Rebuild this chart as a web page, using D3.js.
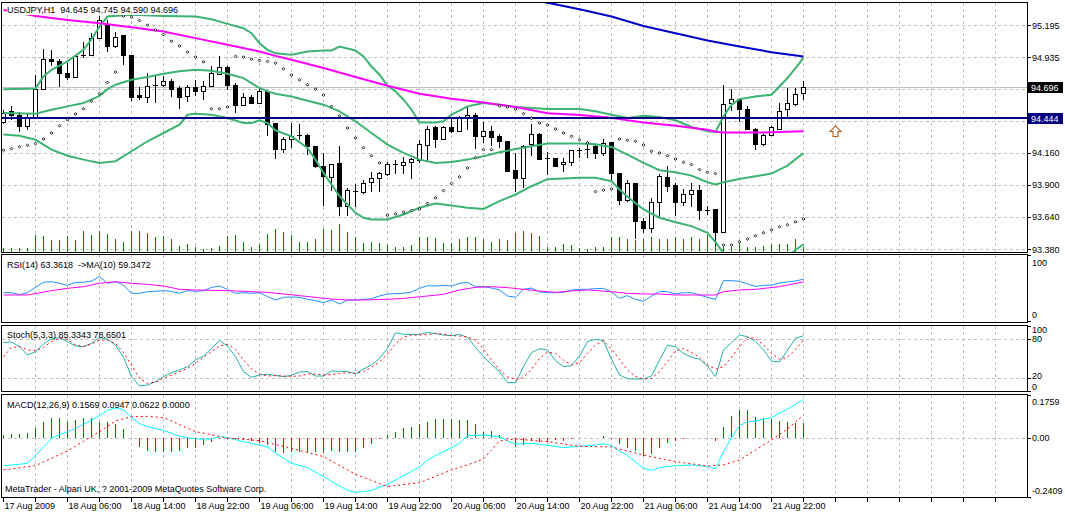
<!DOCTYPE html>
<html lang="en">
<head>
<meta charset="UTF-8">
<title>USDJPY,H1</title>
<script src="https://cdn.jsdelivr.net/npm/d3@7"></script>
<style>
    body { margin: 0; background: #fff; }
    svg { display: block; font-family: "Liberation Sans", Arial, sans-serif; font-size: 9px; }
    text { white-space: pre; }
</style>
</head>
<body>
<script type="text/javascript">

    // time axis
    var timeTicks = [0, 8, 16, 24, 32, 40, 48, 56, 64, 72, 80, 88, 96];
    var timeLabels = ["17 Aug 2009", "18 Aug 06:00", "18 Aug 14:00", "18 Aug 22:00", "19 Aug 06:00",
        "19 Aug 14:00", "19 Aug 22:00", "20 Aug 06:00", "20 Aug 14:00", "20 Aug 22:00",
        "21 Aug 06:00", "21 Aug 14:00", "21 Aug 22:00"];
    var priceTicks = [95.195, 94.935, 94.675, 94.420, 94.160, 93.900, 93.640, 93.380];

    // candles, one per hour
    var open = [94.410, 94.497, 94.470, 94.373, 94.448, 94.680, 94.918, 94.907, 94.810, 94.778,
        94.945, 94.950, 95.091, 95.199, 95.026, 95.112, 94.950, 94.626, 94.616, 94.705,
        94.713, 94.740, 94.686, 94.621, 94.697, 94.664, 94.702, 94.799, 94.859, 94.707,
        94.551, 94.616, 94.562, 94.659, 94.400, 94.189, 94.270, 94.300, 94.302, 94.211,
        94.054, 93.962, 94.076, 93.730, 93.852, 93.843, 93.919, 93.951, 93.984, 94.068,
        94.059, 94.081, 94.103, 94.221, 94.367, 94.275, 94.367, 94.335, 94.443, 94.470,
        94.292, 94.340, 94.292, 94.254, 94.016, 93.957, 94.227, 94.308, 94.119, 94.113,
        94.065, 94.081, 94.184, 94.192, 94.216, 94.157, 94.243, 93.995, 93.779, 93.914,
        93.606, 93.552, 93.757, 93.962, 93.897, 93.757, 93.822, 93.860, 93.703, 93.703,
        93.519, 94.567, 94.599, 94.518, 94.356, 94.227, 94.302, 94.356, 94.513, 94.556,
        94.645];
    var high = [94.513, 94.545, 94.497, 94.486, 94.794, 95.004, 94.999, 94.923, 94.891, 94.950,
        95.064, 95.134, 95.274, 95.242, 95.145, 95.118, 94.956, 94.697, 94.815, 94.788,
        94.788, 94.761, 94.707, 94.713, 94.756, 94.745, 94.864, 94.950, 94.864, 94.729,
        94.648, 94.632, 94.686, 94.670, 94.405, 94.292, 94.405, 94.400, 94.313, 94.216,
        94.162, 94.070, 94.221, 93.881, 93.914, 93.946, 94.005, 94.011, 94.092, 94.108,
        94.130, 94.124, 94.270, 94.383, 94.383, 94.378, 94.448, 94.464, 94.540, 94.486,
        94.416, 94.378, 94.313, 94.259, 94.162, 94.227, 94.394, 94.324, 94.173, 94.119,
        94.119, 94.189, 94.200, 94.259, 94.238, 94.275, 94.248, 94.000, 93.946, 93.919,
        93.633, 93.795, 93.989, 94.059, 93.919, 93.870, 93.919, 93.903, 93.730, 93.708,
        94.713, 94.680, 94.610, 94.540, 94.367, 94.319, 94.378, 94.567, 94.686, 94.691,
        94.745];
    var low = [94.400, 94.432, 94.329, 94.351, 94.443, 94.675, 94.864, 94.697, 94.751, 94.772,
        94.929, 94.945, 95.085, 94.983, 95.015, 94.875, 94.583, 94.594, 94.567, 94.567,
        94.697, 94.616, 94.518, 94.578, 94.626, 94.589, 94.697, 94.794, 94.675, 94.486,
        94.545, 94.556, 94.556, 94.302, 94.113, 94.162, 94.200, 94.270, 94.146, 94.043,
        93.735, 93.854, 93.654, 93.654, 93.725, 93.827, 93.843, 93.843, 93.978, 93.989,
        93.989, 93.951, 94.081, 94.086, 94.205, 94.270, 94.324, 94.329, 94.351, 94.194,
        94.243, 94.216, 94.200, 94.005, 93.843, 93.881, 94.135, 94.103, 93.984, 94.049,
        94.011, 94.054, 94.119, 94.119, 94.113, 94.135, 93.930, 93.741, 93.762, 93.460,
        93.514, 93.514, 93.638, 93.849, 93.649, 93.730, 93.725, 93.617, 93.660, 93.406,
        93.514, 94.502, 94.410, 94.346, 94.189, 94.221, 94.297, 94.351, 94.448, 94.545,
        94.590];
    var close = [94.486, 94.470, 94.373, 94.448, 94.680, 94.918, 94.902, 94.805, 94.778, 94.945,
        94.950, 95.091, 95.237, 95.026, 95.102, 94.950, 94.616, 94.610, 94.702, 94.710,
        94.745, 94.680, 94.616, 94.697, 94.664, 94.702, 94.810, 94.859, 94.707, 94.551,
        94.616, 94.562, 94.659, 94.394, 94.189, 94.270, 94.297, 94.302, 94.211, 94.049,
        93.968, 94.065, 93.730, 93.860, 93.846, 93.914, 93.951, 93.995, 94.065, 94.070,
        94.081, 94.108, 94.227, 94.356, 94.275, 94.367, 94.340, 94.448, 94.470, 94.292,
        94.340, 94.286, 94.254, 94.011, 93.957, 94.211, 94.308, 94.108, 94.113, 94.054,
        94.081, 94.178, 94.186, 94.194, 94.157, 94.238, 93.995, 93.779, 93.914, 93.606,
        93.552, 93.757, 93.968, 93.892, 93.757, 93.822, 93.860, 93.692, 93.692, 93.519,
        94.556, 94.599, 94.518, 94.351, 94.227, 94.302, 94.367, 94.502, 94.567, 94.637,
        94.696];
    var volume = [110, 110, 110, 110, 500, 480, 360, 360, 480, 360,
        620, 500, 620, 540, 380, 300, 620, 620, 560, 440,
        480, 380, 180, 240, 140, 100, 120, 180, 480, 500,
        300, 140, 240, 540, 680, 600, 500, 300, 300, 380,
        680, 660, 840, 600, 440, 280, 300, 280, 200, 160,
        140, 220, 460, 460, 420, 280, 280, 400, 460, 460,
        380, 300, 380, 360, 560, 640, 560, 480, 140, 140,
        240, 200, 120, 100, 140, 140, 440, 460, 400, 360,
        380, 440, 380, 380, 440, 380, 460, 380, 520, 280,
        210, 160, 340, 160, 140, 180, 240, 240, 240, 400,
        160];
    // parabolic SAR
    var sar = [94.184, 94.197, 94.213, 94.224, 94.238, 94.275, 94.324, 94.383, 94.432, 94.478,
        94.521, 94.581, 94.643, 94.734, 94.818, 95.274, 95.264, 95.237, 95.199, 95.161,
        95.123, 95.069, 95.031, 94.980, 94.940, 94.902, 94.521, 94.521, 94.535, 94.945,
        94.940, 94.923, 94.913, 94.905, 94.891, 94.845, 94.794, 94.756, 94.716, 94.680,
        94.632, 94.540, 94.464, 94.365, 94.284, 94.205, 94.140, 94.081, 93.657, 93.668,
        93.681, 93.695, 93.708, 93.752, 93.798, 93.857, 93.914, 93.968, 94.041, 94.124,
        94.189, 94.189, 94.545, 94.535, 94.518, 94.481, 94.443, 94.405, 94.389, 94.356,
        94.324, 94.297, 94.270, 94.243, 93.849, 93.860, 93.870, 94.275, 94.265, 94.257,
        94.227, 94.176, 94.162, 94.140, 94.113, 94.086, 94.068, 94.027, 94.005, 93.995,
        93.414, 93.414, 93.441, 93.465, 93.490, 93.514, 93.538, 93.563, 93.579, 93.603,
        93.627];

    // bollinger bands [bar, price]
    var bbUpper = [[0, 94.680], [4, 94.686], [5, 94.783], [6, 94.837], [8, 94.905], [10, 94.999], [11, 95.085],
        [12, 95.188], [13, 95.269], [16, 95.283], [20, 95.274], [24, 95.269], [26, 95.247], [28, 95.210],
        [30, 95.175], [31, 95.134], [32, 95.053], [33, 94.999], [34, 94.972], [36, 94.959], [38, 94.986],
        [40, 94.994], [41, 94.994], [42, 95.026], [44, 94.994], [45, 94.945], [46, 94.864], [47, 94.797],
        [48, 94.707], [49, 94.662], [50, 94.594], [51, 94.513], [52, 94.410], [54, 94.410], [55, 94.419],
        [56, 94.473], [57, 94.505], [58, 94.540], [60, 94.567], [62, 94.554], [64, 94.535], [68, 94.518],
        [72, 94.518], [74, 94.500], [76, 94.473], [78, 94.446], [80, 94.464], [82, 94.454], [84, 94.427],
        [86, 94.373], [88, 94.338], [89, 94.332], [90, 94.459], [91, 94.554], [92, 94.599], [94, 94.621],
        [96, 94.635], [98, 94.770], [100, 94.932]];
    var bbMiddle = [[0, 94.486], [4, 94.481], [6, 94.513], [8, 94.540], [10, 94.567], [12, 94.626], [13, 94.680],
        [14, 94.716], [16, 94.756], [18, 94.778], [20, 94.805], [22, 94.826], [24, 94.837], [26, 94.829],
        [28, 94.805], [30, 94.770], [31, 94.729], [32, 94.689], [33, 94.662], [34, 94.643], [36, 94.621],
        [38, 94.586], [40, 94.554], [42, 94.500], [44, 94.419], [46, 94.324], [48, 94.230], [50, 94.162],
        [52, 94.108], [54, 94.081], [56, 94.089], [58, 94.108], [60, 94.135], [62, 94.167], [64, 94.194],
        [66, 94.216], [68, 94.238], [72, 94.238], [74, 94.232], [76, 94.211], [78, 94.149], [80, 94.081],
        [82, 94.022], [84, 94.005], [86, 93.978], [88, 93.924], [89, 93.906], [90, 93.924], [92, 93.951],
        [94, 93.973], [96, 93.995], [98, 94.059], [100, 94.162]];
    var bbLower = [[0, 94.311], [2, 94.302], [4, 94.270], [5, 94.230], [6, 94.189], [8, 94.140], [10, 94.108],
        [12, 94.081], [14, 94.095], [16, 94.176], [18, 94.257], [20, 94.324], [22, 94.392], [23, 94.473],
        [24, 94.481], [26, 94.473], [28, 94.446], [30, 94.405], [31, 94.405], [32, 94.427], [33, 94.405],
        [34, 94.346], [36, 94.297], [38, 94.203], [39, 94.108], [40, 94.000], [41, 93.906], [42, 93.811],
        [43, 93.744], [44, 93.676], [45, 93.636], [46, 93.622], [48, 93.622], [50, 93.663], [52, 93.717],
        [54, 93.752], [56, 93.735], [58, 93.717], [60, 93.708], [62, 93.771], [64, 93.825], [66, 93.892],
        [68, 93.949], [72, 93.960], [74, 93.960], [76, 93.933], [77, 93.865], [78, 93.806], [80, 93.703],
        [82, 93.636], [84, 93.600], [86, 93.568], [88, 93.514], [89, 93.438], [90, 93.347], [92, 93.244],
        [94, 93.217], [96, 93.244], [98, 93.312], [99, 93.374], [100, 93.420]];
    // moving averages [bar, price]
    var maMagenta = [[0, 95.323], [4, 95.274], [8, 95.242], [12, 95.215], [16, 95.183], [20, 95.148], [24, 95.094],
        [28, 95.040], [32, 94.986], [34, 94.950], [36, 94.918], [40, 94.851], [44, 94.778], [48, 94.707],
        [52, 94.643], [56, 94.602], [60, 94.572], [64, 94.535], [68, 94.484], [72, 94.470], [76, 94.448],
        [78, 94.427], [80, 94.410], [84, 94.383], [88, 94.351], [89, 94.335], [90, 94.329], [95, 94.329],
        [100, 94.338]];
    var maBlue = [[64, 95.431], [68, 95.382], [72, 95.328], [76, 95.269], [80, 95.193], [84, 95.134],
        [88, 95.075], [92, 95.026], [96, 94.980], [100, 94.945]];
    var hLevel = 94.444;
    var arrowMark = [104, 94.381];

    // RSI(14) and its MA(10)
    var rsi = [42.9, 42.9, 39.9, 42.9, 51.0, 58.6, 59.6, 57.1, 54.0, 58.6,
        58.6, 60.6, 67.2, 57.1, 59.6, 54.5, 41.9, 41.9, 44.4, 44.9,
        46.0, 44.9, 41.9, 46.0, 44.9, 46.0, 51.0, 53.0, 48.0, 41.9,
        42.9, 41.9, 42.9, 36.9, 31.8, 35.9, 36.4, 35.9, 32.8, 30.8,
        27.8, 31.8, 25.8, 31.8, 31.8, 32.8, 33.8, 37.9, 40.9, 41.4,
        41.9, 43.9, 49.5, 53.5, 53.0, 54.0, 53.0, 57.1, 58.6, 52.0,
        52.0, 50.0, 47.0, 37.9, 35.9, 48.0, 50.0, 43.9, 42.9, 42.9,
        43.4, 47.0, 48.0, 48.0, 49.0, 49.5, 43.9, 34.3, 38.4, 32.8,
        29.8, 37.9, 44.9, 44.4, 40.9, 42.9, 42.9, 39.4, 35.9, 32.8,
        61.1, 61.1, 60.1, 56.1, 52.5, 54.0, 54.5, 57.6, 59.1, 60.6,
        63.3618];
    var rsiMa = [[0, 39.4], [3, 39.4], [6, 46.0], [8, 49.5], [10, 52.0], [12, 57.1], [14, 59.6], [16, 57.1],
        [18, 55.6], [20, 53.0], [22, 48.0], [24, 47.0], [28, 46.0], [33, 43.4], [37, 38.4], [41, 33.3],
        [43, 31.8], [45, 31.8], [48, 32.8], [50, 34.3], [53, 37.9], [55, 40.4], [57, 47.0], [59, 51.0],
        [61, 52.0], [63, 50.5], [65, 48.0], [67, 45.5], [69, 43.4], [71, 45.5], [73, 47.0], [76, 44.4],
        [78, 41.9], [80, 40.9], [82, 40.9], [84, 39.4], [89, 39.4], [90, 44.4], [92, 47.0], [94, 48.0],
        [97, 52.0], [100, 59.3472]];

    // Stochastic(5,3,3)
    var stochK = [74.8, 75.8, 68.7, 55.8, 61.0, 72.8, 81.5, 82.5, 76.4, 69.7,
        68.7, 73.8, 83.0, 80.0, 71.2, 52.3, 22.5, 8.2, 9.7, 14.8,
        22.5, 28.7, 32.8, 37.9, 48.2, 54.3, 66.1, 77.9, 69.7, 53.3,
        30.2, 21.5, 25.1, 26.1, 24.6, 22.5, 24.6, 29.7, 30.7, 23.5,
        23.5, 31.2, 30.7, 30.7, 26.6, 34.3, 40.5, 50.7, 66.1, 90.2,
        87.6, 87.6, 87.1, 90.7, 88.7, 86.6, 85.6, 87.6, 83.0, 67.6,
        53.3, 41.5, 30.2, 13.3, 13.3, 37.9, 59.4, 65.6, 63.5, 47.1,
        37.9, 39.4, 54.3, 76.4, 80.0, 77.9, 49.2, 25.1, 19.4, 19.0,
        19.0, 23.5, 48.2, 70.7, 68.7, 58.4, 52.3, 49.2, 38.9, 22.5,
        63.5, 74.8, 86.6, 84.1, 76.4, 63.5, 46.6, 45.1, 63.5, 81.5,
        85.3343];
    var stochD = [53.3, 67.6, 68.7, 63.5, 62.5, 67.6, 76.4, 81.5, 79.9, 71.2,
        68.7, 72.8, 78.9, 78.9, 73.8, 59.4, 40.5, 20.0, 12.3, 14.3,
        20.0, 25.1, 30.2, 35.3, 43.0, 52.3, 61.0, 69.7, 72.3, 64.6,
        48.2, 34.8, 26.6, 23.5, 24.1, 23.5, 23.0, 23.5, 26.6, 26.6,
        25.1, 25.6, 27.6, 28.7, 27.6, 30.2, 36.9, 45.6, 57.4, 72.8,
        83.0, 86.6, 86.6, 87.1, 89.2, 87.6, 85.6, 85.1, 83.5, 78.9,
        65.1, 48.2, 32.8, 22.5, 18.4, 21.0, 33.8, 50.7, 60.0, 58.4,
        48.2, 40.5, 44.0, 58.4, 71.2, 77.9, 64.6, 49.2, 32.8, 22.5,
        19.0, 20.0, 30.2, 45.6, 62.5, 65.6, 60.0, 52.3, 40.5, 33.8,
        37.9, 52.3, 68.7, 83.0, 81.5, 71.2, 58.4, 49.2, 52.3, 64.6,
        78.6501];

    // MACD(12,26,9)
    var macdMain = [[0, -0.1128], [2, -0.1073], [3, -0.1032], [4, -0.0719], [5, -0.0379], [6, -0.0011],
        [7, 0.0139], [8, 0.0262], [9, 0.0384], [10, 0.0561], [11, 0.0725], [12, 0.0915], [13, 0.1133],
        [14, 0.1228], [15, 0.1161], [16, 0.0834], [17, 0.0588], [18, 0.0466], [20, 0.0316], [22, 0.0071],
        [24, -0.0038], [26, -0.0038], [27, 0.0057], [28, 0.0016], [30, -0.0147], [32, -0.0283],
        [33, -0.0365], [34, -0.0624], [36, -0.1032], [38, -0.1209], [40, -0.1577], [42, -0.1959],
        [43, -0.2135], [44, -0.2217], [45, -0.2190], [46, -0.2135], [48, -0.1890], [50, -0.1536],
        [52, -0.1180], [53, -0.0910], [54, -0.0719], [56, -0.0392], [57, -0.0215], [58, 0.0098],
        [60, 0.0125], [62, 0.0057], [63, -0.0120], [64, -0.0242], [66, -0.0215], [68, -0.0297],
        [70, -0.0392], [72, -0.0338], [74, -0.0283], [75, -0.0229], [76, -0.0311], [77, -0.0528],
        [78, -0.0719], [80, -0.1233], [81, -0.1318], [82, -0.1209], [84, -0.1128], [86, -0.1100],
        [88, -0.1155], [89, -0.1264], [90, -0.0556], [91, 0.0016], [92, 0.0507], [93, 0.0670],
        [94, 0.0697], [96, 0.0834], [98, 0.1188], [100, 0.1569]];
    var macdSignal = [[0, -0.1304], [4, -0.1128], [8, -0.0528], [12, 0.0262], [14, 0.0697], [16, 0.0874],
        [18, 0.0888], [20, 0.0834], [24, 0.0262], [28, 0.0003], [32, -0.0106], [36, -0.0419], [40, -0.0760],
        [44, -0.1482], [48, -0.1986], [52, -0.1823], [56, -0.1305], [58, -0.1100], [60, -0.0855],
        [62, -0.0120], [64, -0.0038], [68, -0.0147], [72, -0.0338], [76, -0.0365], [80, -0.0692],
        [84, -0.0964], [88, -0.1141], [90, -0.1100], [92, -0.0896], [94, -0.0488], [96, -0.0079],
        [98, 0.0370], [100, 0.0947]];
    var macdHist = [0.0129, 0.0157, 0.0170, 0.0198, 0.0429, 0.0674, 0.0838, 0.0838, 0.0674, 0.0756,
        0.0810, 0.0838, 0.0674, 0.0674, 0.0592, 0.0375, 0.0000, -0.0347, -0.0524, -0.0552,
        -0.0552, -0.0552, -0.0524, -0.0415, -0.0415, -0.0279, -0.0143, -0.0048, -0.0048, -0.0089,
        -0.0089, -0.0116, -0.0211, -0.0279, -0.0552, -0.0620, -0.0552, -0.0552, -0.0552, -0.0552,
        -0.0620, -0.0511, -0.0552, -0.0579, -0.0552, -0.0388, -0.0252, -0.0034, 0.0129, 0.0266,
        0.0402, 0.0470, 0.0592, 0.0674, 0.0783, 0.0783, 0.0783, 0.0756, 0.0729, 0.0565,
        0.0266, 0.0293, 0.0129, -0.0020, -0.0347, -0.0279, -0.0116, -0.0170, -0.0170, -0.0089,
        -0.0116, -0.0034, -0.0007, 0.0020, 0.0020, 0.0089, -0.0048, -0.0252, -0.0415, -0.0524,
        -0.0715, -0.0661, -0.0388, -0.0211, -0.0116, -0.0034, 0.0020, 0.0020, -0.0007, -0.0102,
        0.0470, 0.0919, 0.1151, 0.1151, 0.0878, 0.0810, 0.0783, 0.0701, 0.0674, 0.0606,
        0.0622];

    var last = close.length - 1;
    var L = 1.5, R = 1027.5;

    var svg = d3.select("body").append("svg").attr("width", 1065).attr("height", 514);

    // scales
    var x = d3.scaleLinear().domain([0, 100]).range([3.5, 803.5]);
    var yP = d3.scaleLinear().domain([93.380, 95.195]).range([249.3, 25.7]);
    var yV = d3.scaleLinear().domain([0, 3000]).range([252, 152]);
    var yR = d3.scaleLinear().domain([0, 100]).range([321, 255]);
    var yS = d3.scaleLinear().domain([0, 100]).range([391.3, 326.3]);
    var yM = d3.scaleLinear().domain([-0.2409, 0.1759]).range([497, 395]);

    var panes = [
        {id: "cMain", top: 2.5, bottom: 252.5},
        {id: "cRsi", top: 254.5, bottom: 322.5},
        {id: "cSto", top: 325.5, bottom: 391.5},
        {id: "cMacd", top: 394.5, bottom: 497.5}
    ];
    var defs = svg.append("defs");
    panes.forEach(function (p) {
        defs.append("clipPath").attr("id", p.id).append("rect")
            .attr("x", L).attr("y", p.top).attr("width", R - L).attr("height", p.bottom - p.top);
    });

    function px(v) { return Math.round(v - 0.5) + 0.5; }
    var gridColor = "#c0c0c0", dash = "3,3";

    //Grid
    var grid = svg.append("g").attr("shape-rendering", "crispEdges");
    var gridBars = d3.range(4, 125, 4);
    panes.forEach(function (p) {
        grid.append("g").selectAll("line").data(gridBars).join("line")
            .attr("x1", function (d) { return x(d); }).attr("x2", function (d) { return x(d); })
            .attr("y1", p.top).attr("y2", p.bottom)
            .attr("stroke", gridColor).attr("stroke-dasharray", dash);
    });
    function hGrid(vals, scale) {
        grid.append("g").selectAll("line").data(vals).join("line")
            .attr("x1", L).attr("x2", R)
            .attr("y1", function (d) { return px(scale(d)); }).attr("y2", function (d) { return px(scale(d)); })
            .attr("stroke", gridColor).attr("stroke-dasharray", dash);
    }
    hGrid(priceTicks, yP);
    hGrid([80, 20], yS);
    hGrid([0], yM);

    //Main chart
    var main = svg.append("g").attr("clip-path", "url(#cMain)");
    var bars = d3.range(close.length);

    main.append("g").attr("shape-rendering", "crispEdges")
        .selectAll("line").data(bars).join("line")
        .attr("x1", function (i) { return x(i); }).attr("x2", function (i) { return x(i); })
        .attr("y1", yV(0)).attr("y2", function (i) { return yV(volume[i]); })
        .attr("stroke", "#008000");

    // bid line
    main.append("line").attr("x1", L).attr("x2", R)
        .attr("y1", px(yP(close[last]))).attr("y2", px(yP(close[last])))
        .attr("stroke", "#c0c0c0").attr("shape-rendering", "crispEdges");

    var cg = main.append("g").attr("shape-rendering", "crispEdges");
    cg.selectAll("line").data(bars).join("line")
        .attr("x1", function (i) { return x(i); }).attr("x2", function (i) { return x(i); })
        .attr("y1", function (i) { return yP(high[i]); }).attr("y2", function (i) { return yP(low[i]); })
        .attr("stroke", "#000");
    cg.selectAll("rect").data(bars.filter(function (i) {
        return Math.abs(yP(open[i]) - yP(close[i])) >= 1.5;
    })).join("rect")
        .attr("x", function (i) { return x(i) - 2; }).attr("width", 4)
        .attr("y", function (i) { return Math.min(yP(open[i]), yP(close[i])); })
        .attr("height", function (i) { return Math.abs(yP(open[i]) - yP(close[i])); })
        .attr("fill", function (i) { return close[i] >= open[i] ? "#fff" : "#000"; })
        .attr("stroke", "#000");
    cg.selectAll("line.doji").data(bars.filter(function (i) {
        return Math.abs(yP(open[i]) - yP(close[i])) < 1.5;
    })).join("line").attr("class", "doji")
        .attr("x1", function (i) { return x(i) - 2.5; }).attr("x2", function (i) { return x(i) + 2.5; })
        .attr("y1", function (i) { return px(yP(close[i])); }).attr("y2", function (i) { return px(yP(close[i])); })
        .attr("stroke", "#000");

    var pline = d3.line().x(function (d) { return x(d[0]); }).y(function (d) { return yP(d[1]); });
    [bbUpper, bbMiddle, bbLower].forEach(function (s) {
        main.append("path").attr("d", pline(s)).attr("fill", "none")
            .attr("stroke", "#3cb371").attr("stroke-width", 2);
    });
    main.append("path").attr("d", pline(maMagenta)).attr("fill", "none")
        .attr("stroke", "#ff00ff").attr("stroke-width", 2);
    main.append("path").attr("d", pline(maBlue)).attr("fill", "none")
        .attr("stroke", "#0000cd").attr("stroke-width", 2);

    main.append("line").attr("x1", L).attr("x2", R)
        .attr("y1", Math.round(yP(hLevel))).attr("y2", Math.round(yP(hLevel)))
        .attr("stroke", "#000080").attr("stroke-width", 2);

    // SAR dots
    main.append("g").selectAll("path").data(bars).join("path")
        .attr("d", function (i) {
            var cx = x(i), cy = yP(sar[i]), r = 1.4;
            return "M" + cx + "," + (cy - r) + "L" + (cx + r) + "," + cy + "L" + cx + "," + (cy + r) + "L" + (cx - r) + "," + cy + "Z";
        })
        .attr("fill", "#fff").attr("stroke", "#000").attr("stroke-width", 0.9);

    // arrow object
    var ax = x(arrowMark[0]), ay = yP(arrowMark[1]);
    svg.append("path")
        .attr("d", "M" + ax + "," + ay + "l5.5,5.5h-3v5h-5v-5h-3z")
        .attr("fill", "#fff").attr("stroke", "#b0601e").attr("stroke-width", 1.1);

    //RSI
    var rg = svg.append("g").attr("clip-path", "url(#cRsi)");
    rg.append("path").attr("fill", "none").attr("stroke", "#1e90ff")
        .attr("d", d3.line().x(function (d, i) { return x(i); }).y(function (d) { return yR(d); })(rsi));
    rg.append("path").attr("fill", "none").attr("stroke", "#ff00ff")
        .attr("d", d3.line().x(function (d) { return x(d[0]); }).y(function (d) { return yR(d[1]); })(rsiMa));

    //Stochastic
    var sg = svg.append("g").attr("clip-path", "url(#cSto)");
    sg.append("path").attr("fill", "none").attr("stroke", "#20b2aa")
        .attr("d", d3.line().x(function (d, i) { return x(i); }).y(function (d) { return yS(d); })(stochK));
    sg.append("path").attr("fill", "none").attr("stroke", "#ff0000").attr("stroke-dasharray", "2,3")
        .attr("d", d3.line().x(function (d, i) { return x(i); }).y(function (d) { return yS(d); })(stochD));

    //MACD
    var mg = svg.append("g").attr("clip-path", "url(#cMacd)");
    mg.append("g").attr("shape-rendering", "crispEdges")
        .selectAll("line").data(macdHist).join("line")
        .attr("x1", function (d, i) { return x(i); }).attr("x2", function (d, i) { return x(i); })
        .attr("y1", yM(0)).attr("y2", function (d) { return yM(d); })
        .attr("stroke", function (d) { return d >= 0 ? "#008000" : "#ff0000"; });
    var mline = d3.line().x(function (d) { return x(d[0]); }).y(function (d) { return yM(d[1]); });
    mg.append("path").attr("d", mline(macdMain)).attr("fill", "none").attr("stroke", "#00ffff");
    mg.append("path").attr("d", mline(macdSignal)).attr("fill", "none")
        .attr("stroke", "#ff0000").attr("stroke-dasharray", "2,3");

    //Frames
    var fr = svg.append("g").attr("shape-rendering", "crispEdges");
    panes.forEach(function (p) {
        fr.append("rect").attr("x", L).attr("y", p.top).attr("width", R - L).attr("height", p.bottom - p.top)
            .attr("fill", "none").attr("stroke", "#000");
    });

    //Right axis
    var ax2 = svg.append("g");
    var badgeY = [yP(close[last]), yP(hLevel)];
    function rLabels(vals, fmt, scale, offs) {
        vals.forEach(function (v, k) {
            var yy = scale(v);
            ax2.append("line").attr("x1", R).attr("x2", R + 3).attr("y1", px(yy)).attr("y2", px(yy))
                .attr("stroke", "#000").attr("shape-rendering", "crispEdges");
            // labels hidden under the price badges are not drawn
            if (scale === yP && badgeY.some(function (b) { return Math.abs(b - yy) < 8; })) return;
            ax2.append("text").attr("x", 1032).attr("y", yy + (offs ? offs[k] : 3.2)).text(fmt(v));
        });
    }
    rLabels(priceTicks, function (v) { return v.toFixed(3); }, yP);
    rLabels([100, 0], function (v) { return String(v); }, yR, [10.5, -3.5]);
    rLabels([100, 80, 20, 0], function (v) { return String(v); }, yS, [6.6, 2.6, 1.0, -1.8]);
    rLabels([0.1759, 0, -0.2409], function (v) { return v === 0 ? "0.00" : v.toFixed(4); }, yM, [10, 3, -3]);

    // price badges
    function badge(price, color) {
        var yy = Math.round(yP(price));
        svg.append("rect").attr("x", 1028).attr("y", yy - 5).attr("width", 35).attr("height", 11).attr("fill", color);
        svg.append("text").attr("x", 1031).attr("y", yy + 3.5).attr("fill", "#fff").text(price.toFixed(3));
    }
    badge(close[last], "#000");
    badge(hLevel, "#000080");

    //Time axis
    var tg = svg.append("g");
    tg.selectAll("line").data(d3.range(0, 125, 4)).join("line")
        .attr("x1", function (d) { return x(d); }).attr("x2", function (d) { return x(d); })
        .attr("y1", 497.5).attr("y2", 501.5).attr("stroke", "#000").attr("shape-rendering", "crispEdges");
    tg.selectAll("text").data(timeTicks).join("text")
        .attr("x", function (d) { return x(d) + 1; }).attr("y", 509)
        .text(function (d, k) { return timeLabels[k]; });

    //Titles
    var title = "USDJPY,H1  " + [open[last], high[last], low[last], close[last]].map(function (v) { return v.toFixed(3); }).join(" ");
    var tbg = svg.append("rect").attr("x", 7).attr("y", 4).attr("height", 11).attr("fill", "#fff");
    var tt = svg.append("text").attr("x", 7).attr("y", 13).text(title);
    tbg.attr("width", tt.node().getComputedTextLength() + 2);

    svg.append("text").attr("x", 7).attr("y", 268)
        .text("RSI(14) " + rsi[last].toFixed(4) + "  ->MA(10) " + rsiMa[rsiMa.length - 1][1].toFixed(4));
    svg.append("text").attr("x", 7).attr("y", 338)
        .text("Stoch(5,3,3) " + stochK[last].toFixed(4) + " " + stochD[last].toFixed(4));
    svg.append("text").attr("x", 7).attr("y", 408)
        .text("MACD(12,26,9) " + macdMain[macdMain.length - 1][1].toFixed(4) + " " +
            macdSignal[macdSignal.length - 1][1].toFixed(4) + " " + macdHist[last].toFixed(4) + " 0.0000");
    svg.append("text").attr("x", 5).attr("y", 492)
        .text("MetaTrader - Alpari UK, ? 2001-2009 MetaQuotes Software Corp.");

</script>
</body>
</html>
